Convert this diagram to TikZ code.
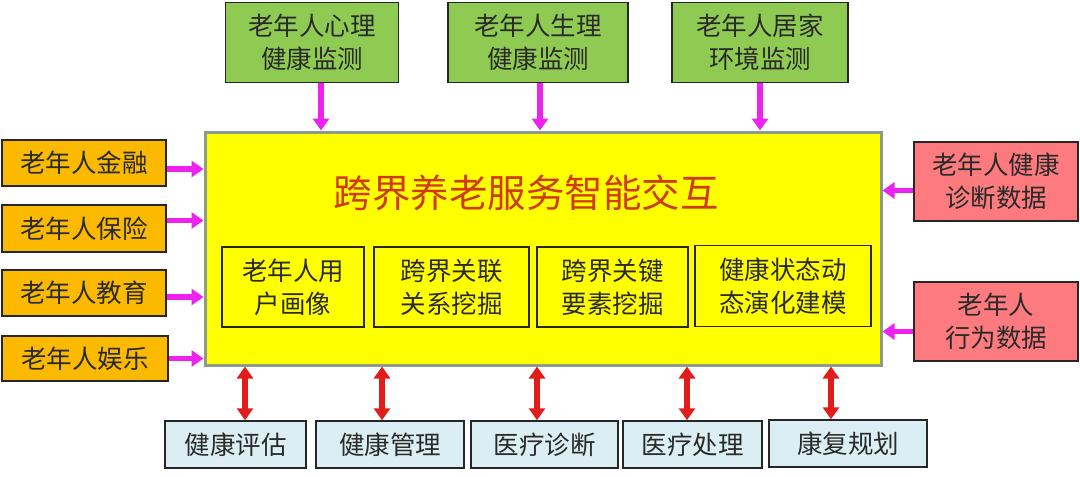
\documentclass[tikz,border=0pt]{standalone}
\usepackage{fontspec}
\setmainfont{Noto Sans CJK SC}
\usetikzlibrary{arrows.meta}
\definecolor{gfill}{HTML}{8FCB52}
\definecolor{ofill}{HTML}{FBBA00}
\definecolor{rfill}{HTML}{FD7B7E}
\definecolor{bfill}{HTML}{DAEEF3}
\definecolor{yfill}{HTML}{FFFF00}
\definecolor{mborder}{HTML}{8C9C8C}
\definecolor{tcol}{HTML}{2A2A2A}
\definecolor{titlecol}{HTML}{D03A10}
\definecolor{mag}{HTML}{EE22EE}
\definecolor{arred}{HTML}{E21B1B}
\begin{document}
\begin{tikzpicture}[x=1pt,y=-1pt,
  box/.style={draw=black!85,line width=1.5pt,align=center,text=tcol,inner sep=0pt,
    font=\fontsize{25.5}{33}\selectfont},
  gbox/.style={box,fill=gfill,minimum height=80pt},
  obox/.style={box,fill=ofill,minimum width=164pt,minimum height=46pt},
  rbox/.style={box,fill=rfill,minimum width=164pt,minimum height=79pt},
  bbox/.style={box,fill=bfill,minimum height=47pt},
  ibox/.style={box,fill=yfill,minimum height=80pt},
  marr/.style={draw=mag,line width=5.5pt,-{Triangle[width=16pt,length=12pt]}},
  rarr/.style={draw=arred,line width=5.5pt,{Triangle[width=16pt,length=12pt]}-{Triangle[width=16pt,length=12pt]}}
]
\useasboundingbox (0,0) rectangle (1080,477);
\fill[white] (0,0) rectangle (1080,477);

% main box
\node[draw=mborder,line width=3pt,fill=yfill,minimum width=676pt,minimum height=233pt,inner sep=0pt] (main) at (543,248.5) {};
\node[text=titlecol,font=\fontsize{38.5}{42}\selectfont] (title) at (526,193) {跨界养老服务智能交互};

% inner boxes
\node[ibox,minimum width=142pt] (i1) at (293,287) {老年人用\\户画像};
\node[ibox,minimum width=155pt] (i2) at (451.5,287) {跨界关联\\关系挖掘};
\node[ibox,minimum width=151pt] (i3) at (612.5,287) {跨界关键\\要素挖掘};
\node[ibox,minimum width=176pt,minimum height=81pt] (i4) at (783,286) {健康状态动\\态演化建模};

% top green boxes
\node[gbox,minimum width=173pt] (g1) at (312,42.5) {老年人心理\\健康监测};
\node[gbox,minimum width=180pt] (g2) at (538,42.5) {老年人生理\\健康监测};
\node[gbox,minimum width=176pt] (g3) at (760,42.5) {老年人居家\\环境监测};

% left orange boxes
\node[obox] (f1) at (84,163) {老年人金融};
\node[obox,minimum height=47pt] (f2) at (84,228.5) {老年人保险};
\node[obox] (f3) at (84,293) {老年人教育};
\node[obox,minimum width=166pt,minimum height=45pt] (f4) at (85,358.5) {老年人娱乐};

% right red boxes
\node[rbox] (r1) at (996,181.5) {老年人健康\\诊断数据};
\node[rbox] (r2) at (996,321.5) {老年人\\行为数据};

% bottom blue boxes
\node[bbox,minimum width=141pt] (b1) at (235.5,444.5) {健康评估};
\node[bbox,minimum width=148pt] (b2) at (390,444.5) {健康管理};
\node[bbox,minimum width=147pt] (b3) at (544.5,444.5) {医疗诊断};
\node[bbox,minimum width=139pt] (b4) at (692.5,444.5) {医疗处理};
\node[bbox,minimum width=158pt] (b5) at (848,443.5) {康复规划};

% top arrows
\draw[marr] ([xshift=9pt]g1.south) -- ([xshift=9pt]g1.south |- main.north);
\draw[marr] ([xshift=2pt]g2.south) -- ([xshift=2pt]g2.south |- main.north);
\draw[marr] (g3.south) -- (g3.south |- main.north);

% left arrows
\draw[marr] ([yshift=-6pt]f1.east) -- ([yshift=-6pt]f1.east -| main.west);
\draw[marr] ([yshift=8pt]f2.east) -- ([yshift=8pt]f2.east -| main.west);
\draw[marr] ([yshift=-4pt]f3.east) -- ([yshift=-4pt]f3.east -| main.west);
\draw[marr] (f4.east) -- (f4.east -| main.west);

% right arrows
\draw[marr] ([yshift=-9pt]r1.west) -- ([yshift=-9pt]r1.west -| main.east);
\draw[marr] ([yshift=-10pt]r2.west) -- ([yshift=-10pt]r2.west -| main.east);

% bottom double arrows
\draw[rarr] ([xshift=9.5pt]b1.north |- main.south) -- ([xshift=9.5pt]b1.north);
\draw[rarr] ([xshift=-8pt]b2.north |- main.south) -- ([xshift=-8pt]b2.north);
\draw[rarr] ([xshift=-7.5pt]b3.north |- main.south) -- ([xshift=-7.5pt]b3.north);
\draw[rarr] ([xshift=-5.5pt]b4.north |- main.south) -- ([xshift=-5.5pt]b4.north);
\draw[rarr] ([xshift=-17pt]b5.north |- main.south) -- ([xshift=-17pt]b5.north);
\end{tikzpicture}
\end{document}
